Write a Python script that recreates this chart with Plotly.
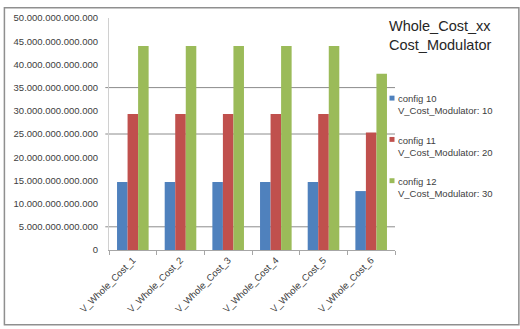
import plotly.graph_objects as go

# Categories and series values
categories = ["V_Whole_Cost_1", "V_Whole_Cost_2", "V_Whole_Cost_3",
              "V_Whole_Cost_4", "V_Whole_Cost_5", "V_Whole_Cost_6"]
config_10 = [14.65e12, 14.65e12, 14.65e12, 14.65e12, 14.65e12, 12.7e12]
config_11 = [29.3e12, 29.3e12, 29.3e12, 29.3e12, 29.3e12, 25.3e12]
config_12 = [43.95e12, 43.95e12, 43.95e12, 43.95e12, 43.95e12, 38.0e12]

series_names = ["config 10", "config 11", "config 12"]
series_sub = ["V_Cost_Modulator: 10", "V_Cost_Modulator: 20", "V_Cost_Modulator: 30"]
series_colors = ["#4F81BD", "#C0504D", "#9BBB59"]

y_ticks = [0, 5e12, 10e12, 15e12, 20e12, 25e12, 30e12, 35e12, 40e12, 45e12, 50e12]
dark_grid = [5e12, 25e12, 35e12]

W, H = 520, 329
L, R, T, B = 108.7, 125, 14, 79
PW, PH = W - L - R, H - T - B


def px_x(p):
    return (p - L) / PW


def px_y(p):
    return (H - B - p) / PH


fig = go.Figure()
for name, vals, col in zip(series_names, [config_10, config_11, config_12], series_colors):
    fig.add_trace(go.Bar(x=categories, y=vals, name=name, marker_color=col,
                         marker_line_width=0, showlegend=False))

shapes = []
# horizontal grid lines
for g in dark_grid:
    shapes.append(dict(type="line", xref="paper", yref="y", x0=px_x(105), x1=1.0,
                       y0=g, y1=g, line=dict(color="#8c8c8c", width=1), layer="below"))
# outer frame
shapes.append(dict(type="rect", xref="paper", yref="paper",
                   x0=px_x(4), x1=px_x(519), y0=px_y(326), y1=px_y(3.5),
                   line=dict(color="#8f8f8f", width=1.5)))

annotations = [
    dict(xref="paper", yref="paper", x=px_x(387), y=px_y(12), xanchor="left", yanchor="top",
         align="left", showarrow=False,
         text="Whole_Cost_xx<br>Cost_Modulator",
         font=dict(family="Liberation Sans, Arial", size=14.5, color="#262626")),
]

# key entries
key_top = [88.5, 130.5, 172.5]
for i in range(3):
    shapes.append(dict(type="rect", xref="paper", yref="paper",
                       x0=px_x(389.5), x1=px_x(394.5), y0=px_y(key_top[i] + 9.5), y1=px_y(key_top[i] + 4.5),
                       fillcolor=series_colors[i], line=dict(width=0)))
    annotations.append(dict(xref="paper", yref="paper", x=px_x(396), y=px_y(key_top[i]),
                            xanchor="left", yanchor="top", align="left", showarrow=False,
                            text=f"{series_names[i]}<br>{series_sub[i]}",
                            font=dict(family="Liberation Sans, Arial", size=9.5, color="#404040")))

fig.update_layout(
    width=W, height=H,
    margin=dict(l=L, r=R, t=T, b=B),
    paper_bgcolor="white", plot_bgcolor="white",
    separators=",.",
    barmode="group", bargap=0.337, bargroupgap=0,
    shapes=shapes, annotations=annotations,
    font=dict(family="Liberation Sans, Arial", size=9.5, color="#404040"),
)
fig.update_yaxes(range=[0, 50e12], tickvals=y_ticks, tickformat=",.0f",
                 showgrid=False, zeroline=False, showline=True, linecolor="#d0d0d0",
                 ticks="", ticklabelstandoff=8,
                 tickfont=dict(size=9.5, color="#404040"))
fig.update_xaxes(tickangle=-45, showgrid=False, showline=True, linecolor="#a6a6a6",
                 ticks="outside", tickson="boundaries", ticklen=4, tickcolor="#a6a6a6",
                 tickfont=dict(size=9.5, color="#404040"))

fig.write_html("out.html")
